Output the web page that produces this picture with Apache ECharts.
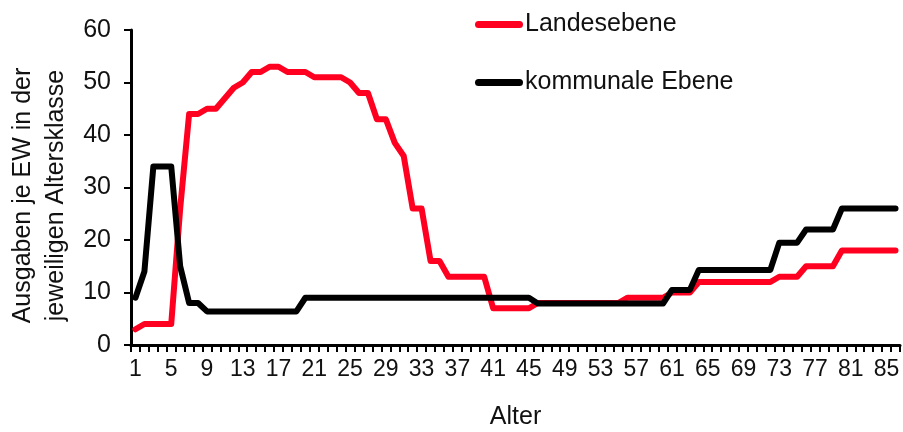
<!DOCTYPE html>
<html>
<head>
<meta charset="utf-8">
<script src="https://cdn.jsdelivr.net/npm/echarts@6/dist/echarts.min.js"></script>
<style>
  html, body { margin: 0; padding: 0; background: #fff; }
  #main { width: 903px; height: 432px; }
</style>
</head>
<body>
<div id="main"></div>
<script>
// Alter 1..86
var ages = ['1','2','3','4','5','6','7','8','9','10','11','12','13','14','15','16','17','18','19','20',
  '21','22','23','24','25','26','27','28','29','30','31','32','33','34','35','36','37','38','39','40',
  '41','42','43','44','45','46','47','48','49','50','51','52','53','54','55','56','57','58','59','60',
  '61','62','63','64','65','66','67','68','69','70','71','72','73','74','75','76','77','78','79','80',
  '81','82','83','84','85','86'];

// Landesebene (rot)
var landesebene = [3, 4, 4, 4, 4, 26, 44, 44, 45, 45, 47, 49, 50, 52, 52, 53, 53, 52, 52, 52,
  51, 51, 51, 51, 50, 48, 48, 43, 43, 38.5, 36, 26, 26, 16, 16, 13, 13, 13, 13, 13,
  7, 7, 7, 7, 7, 8, 8, 8, 8, 8, 8, 8, 8, 8, 8, 9, 9, 9, 9, 9,
  10, 10, 10, 12, 12, 12, 12, 12, 12, 12, 12, 12, 13, 13, 13, 15, 15, 15, 15, 18,
  18, 18, 18, 18, 18, 18];

// kommunale Ebene (schwarz)
var kommunal = [9, 14, 34, 34, 34, 15, 8, 8, 6.4, 6.4, 6.4, 6.4, 6.4, 6.4, 6.4, 6.4, 6.4, 6.4, 6.4, 9,
  9, 9, 9, 9, 9, 9, 9, 9, 9, 9, 9, 9, 9, 9, 9, 9, 9, 9, 9, 9,
  9, 9, 9, 9, 9, 7.9, 7.9, 7.9, 7.9, 7.9, 7.9, 7.9, 7.9, 7.9, 7.9, 7.9, 7.9, 7.9, 7.9, 7.9,
  10.5, 10.5, 10.5, 14.3, 14.3, 14.3, 14.3, 14.3, 14.3, 14.3, 14.3, 14.3, 19.5, 19.5, 19.5, 22, 22, 22, 22, 26,
  26, 26, 26, 26, 26, 26];

var yTicks = [0, 10, 20, 30, 40, 50, 60];

var font = '"Liberation Sans", Arial, sans-serif';
var txt = '#111';
var capsule = 'path://M3.5,0H44.5A3.5,3.5,0,0,1,44.5,7H3.5A3.5,3.5,0,0,1,3.5,0Z';

var myChart = echarts.init(document.getElementById('main'));
var option = {
  animation: false,
  backgroundColor: '#fff',
  textStyle: { fontFamily: font, color: txt },
  legend: {
    orient: 'vertical',
    left: 470,
    top: 7,
    itemWidth: 50,
    itemHeight: 7,
    itemGap: 33,
    textStyle: { fontFamily: font, fontSize: 25, color: txt, padding: [0, 0, 0, -4] },
    data: [
      { name: 'Landesebene', icon: capsule },
      { name: 'kommunale Ebene', icon: capsule }
    ]
  },
  grid: {
    left: 131,
    right: 3,
    top: 30,
    bottom: 87,
    outerBoundsMode: 'none',
    containLabel: false
  },
  xAxis: {
    type: 'category',
    data: ages,
    boundaryGap: true,
    name: 'Alter',
    nameLocation: 'middle',
    nameGap: 60,
    nameTextStyle: { fontFamily: font, fontSize: 25, color: txt },
    axisLine: { lineStyle: { color: '#000', width: 3 } },
    axisTick: { show: true, interval: 0, length: 7, lineStyle: { color: '#000', width: 2 } },
    axisLabel: { interval: 3, margin: 13, fontFamily: font, fontSize: 23, color: txt },
    splitLine: { show: false }
  },
  yAxis: {
    type: 'value',
    min: yTicks[0],
    max: yTicks[yTicks.length - 1],
    interval: 10,
    name: 'Ausgaben je EW in der\njeweiligen Altersklasse',
    nameLocation: 'middle',
    nameRotate: 90,
    nameGap: 58,
    nameTextStyle: { fontFamily: font, fontSize: 25, color: txt, lineHeight: 33, padding: [0, 16, 0, 0] },
    axisLine: { show: true, lineStyle: { color: '#000', width: 3 } },
    axisTick: { show: true, length: 7, lineStyle: { color: '#000', width: 2 } },
    axisLabel: { margin: 20, fontFamily: font, fontSize: 25, color: txt },
    splitLine: { show: false }
  },
  series: [
    {
      name: 'Landesebene',
      type: 'line',
      data: landesebene,
      symbol: 'none',
      color: '#ff0020',
      lineStyle: { color: '#ff0020', width: 6, join: 'round', cap: 'round' }
    },
    {
      name: 'kommunale Ebene',
      type: 'line',
      data: kommunal,
      symbol: 'none',
      color: '#000000',
      lineStyle: { color: '#000000', width: 6, join: 'round', cap: 'round' }
    }
  ]
};
myChart.setOption(option);
</script>
</body>
</html>
